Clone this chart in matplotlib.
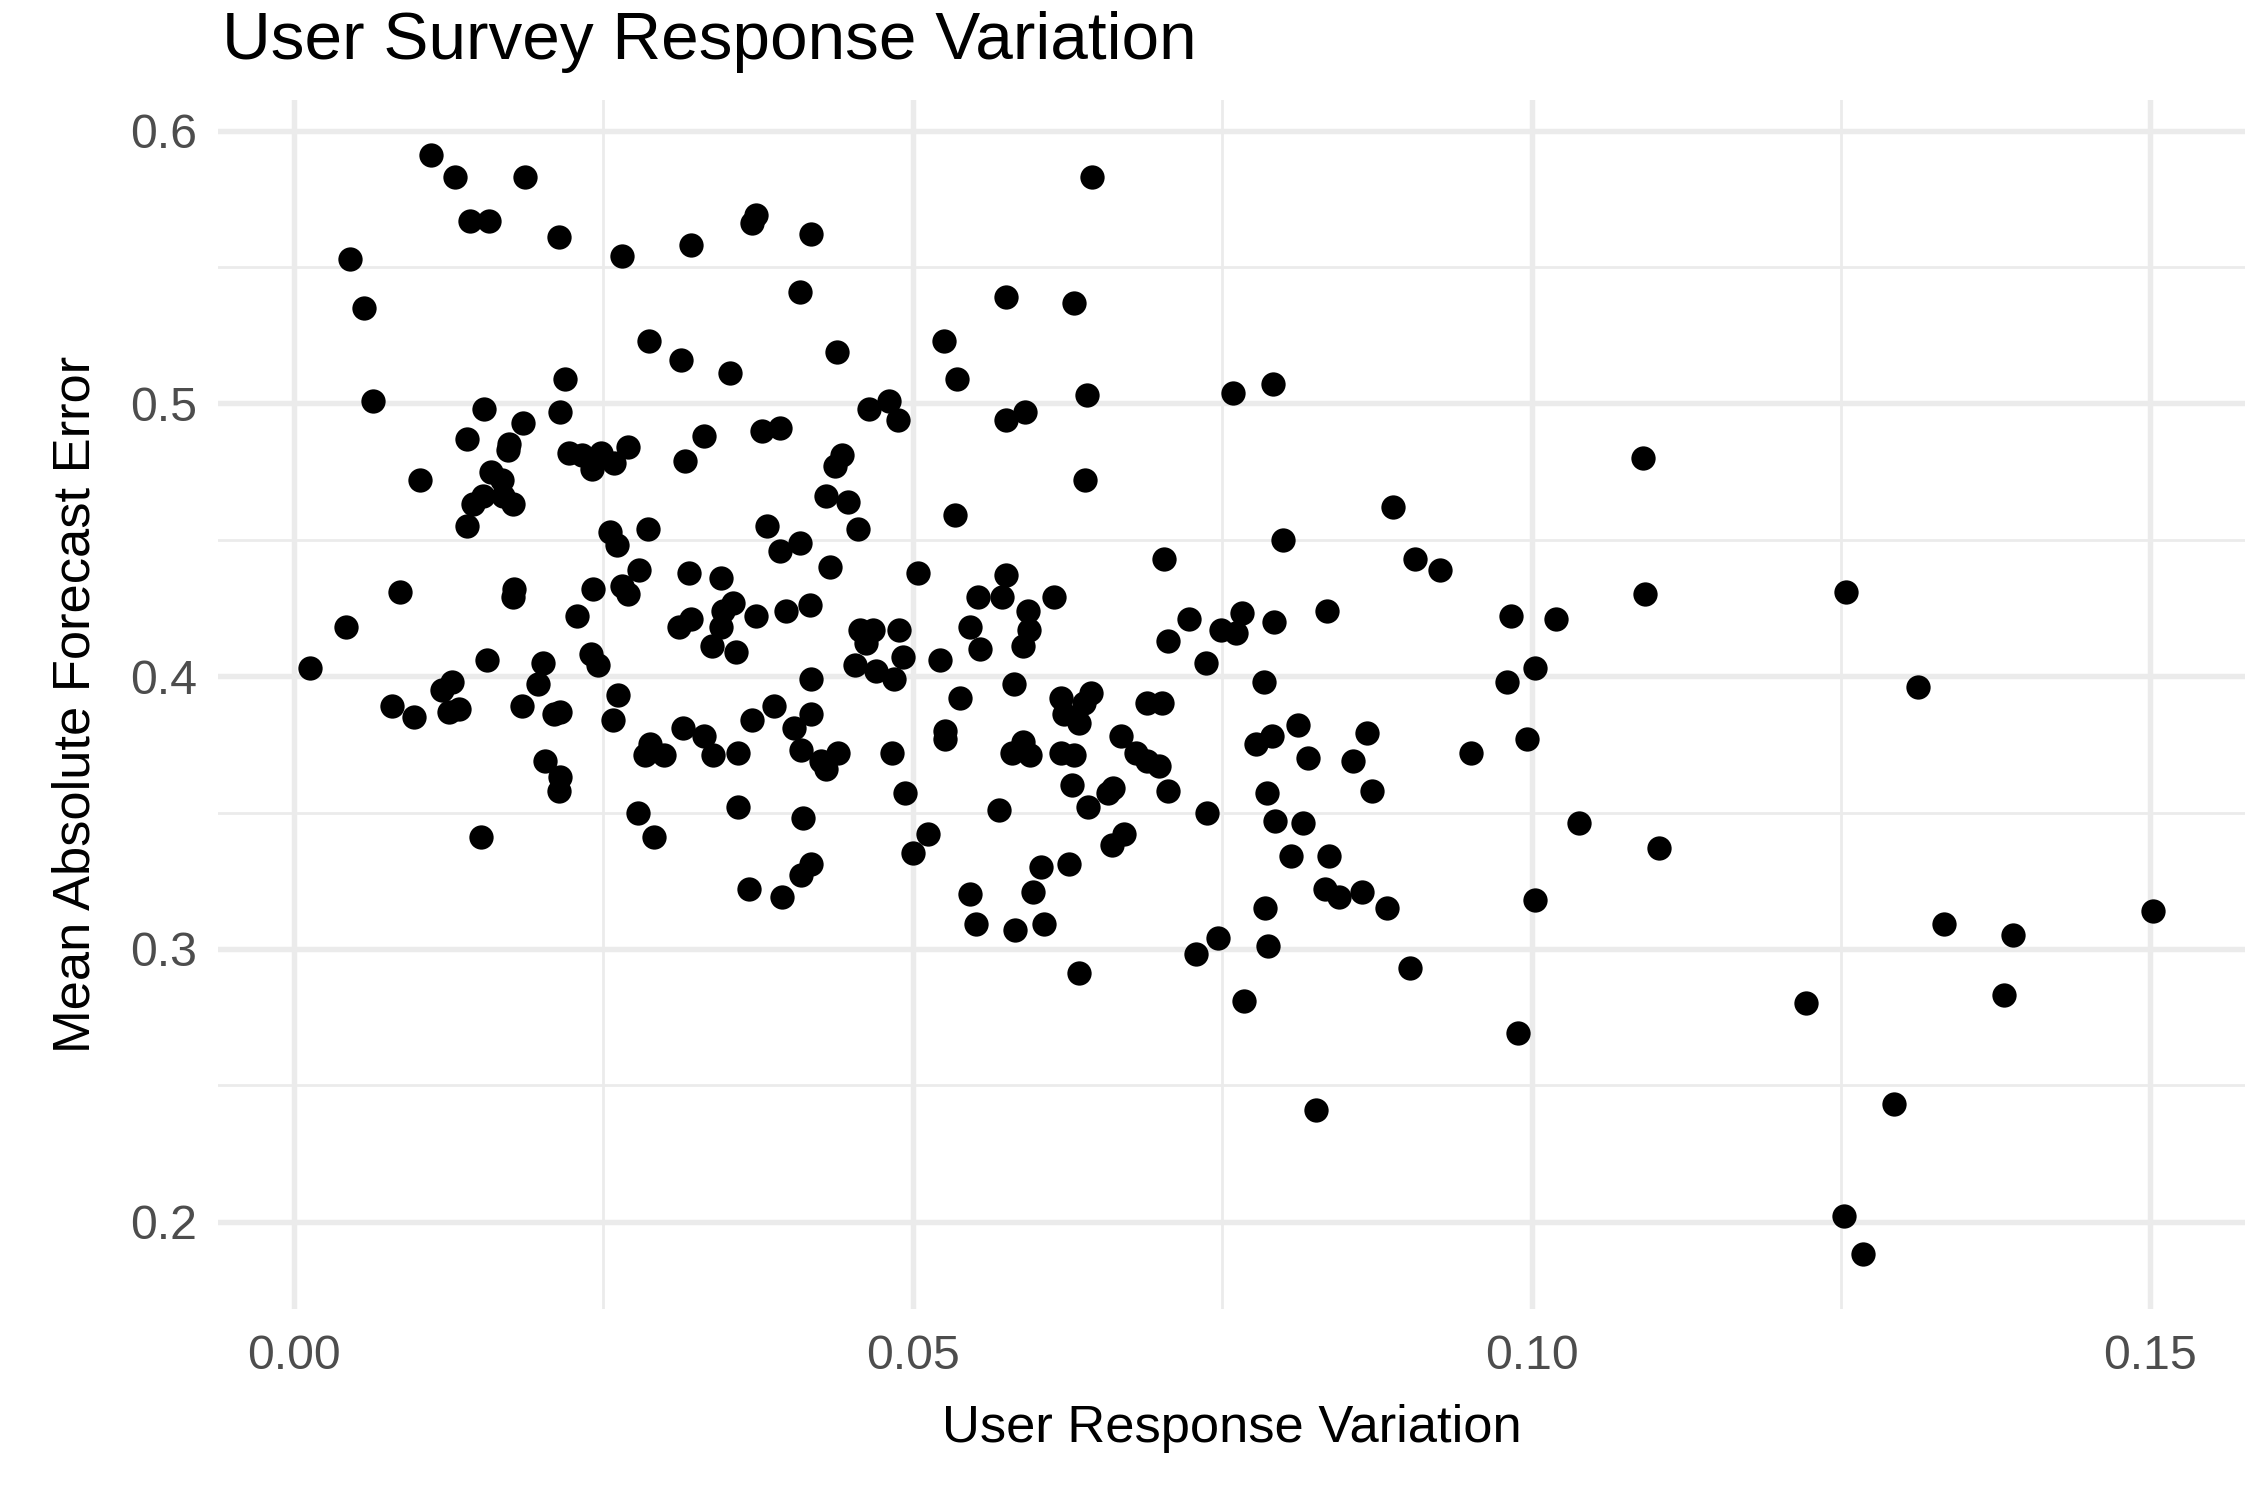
"""User survey response variation vs mean absolute forecast error (scatter)."""

import matplotlib

matplotlib.use("Agg")
import matplotlib.pyplot as plt
from matplotlib.ticker import MultipleLocator

# values
user_response_variation = [
    0.0111, 0.0130, 0.0187, 0.0142, 0.0158, 0.0045, 0.0214, 0.0265, 0.0321, 0.0373,
    0.0370, 0.0418, 0.0645, 0.0057, 0.0409, 0.0575, 0.0630, 0.0287, 0.0313, 0.0439,
    0.0525, 0.0536, 0.0352, 0.0219, 0.0064, 0.0481, 0.0465, 0.0488, 0.0154, 0.0215,
    0.0185, 0.0575, 0.0591, 0.0641, 0.0759, 0.0791, 0.0378, 0.0393, 0.0331, 0.0140,
    0.0174, 0.0173, 0.0222, 0.0233, 0.0241, 0.0248, 0.0259, 0.0270, 0.0316, 0.0443,
    0.0437, 0.1090, 0.0102, 0.0159, 0.0168, 0.0153, 0.0145, 0.0169, 0.0177, 0.0140,
    0.0430, 0.0448, 0.0534, 0.0639, 0.0888, 0.0255, 0.0286, 0.0261, 0.0456, 0.0382,
    0.0393, 0.0409, 0.0799, 0.0906, 0.0926, 0.0703, 0.0504, 0.0319, 0.0345, 0.0279,
    0.0433, 0.0575, 0.0086, 0.0178, 0.0177, 0.0242, 0.0265, 0.0270, 0.0355, 0.0347,
    0.0553, 0.0572, 0.0614, 0.1092, 0.1254, 0.0229, 0.0321, 0.0311, 0.0345, 0.0373,
    0.0398, 0.0417, 0.0593, 0.0594, 0.0457, 0.0468, 0.0489, 0.0462, 0.0546, 0.0554,
    0.0589, 0.0723, 0.0766, 0.0749, 0.0761, 0.0792, 0.0835, 0.0983, 0.1020, 0.0706,
    0.0042, 0.0013, 0.0156, 0.0201, 0.0240, 0.0246, 0.0357, 0.0492, 0.0453, 0.0470,
    0.0485, 0.0418, 0.0522, 0.0737, 0.1003, 0.0980, 0.0784, 0.0197, 0.0262, 0.0538,
    0.0582, 0.0644, 0.0620, 0.0638, 0.0689, 0.0701, 0.1312, 0.0079, 0.0184, 0.0215,
    0.0388, 0.0418, 0.0370, 0.0258, 0.0097, 0.0120, 0.0128, 0.0125, 0.0133, 0.0622,
    0.0634, 0.0811, 0.0314, 0.0526, 0.0526, 0.0404, 0.0331, 0.0288, 0.0284, 0.0299,
    0.0339, 0.0359, 0.0410, 0.0426, 0.0440, 0.0430, 0.0483, 0.0589, 0.0580, 0.0595,
    0.0620, 0.0630, 0.0668, 0.0680, 0.0689, 0.0699, 0.0777, 0.0790, 0.0819, 0.0867,
    0.0856, 0.0951, 0.0996, 0.0203, 0.0215, 0.0214, 0.0494, 0.0629, 0.0662, 0.0658,
    0.0706, 0.0871, 0.0786, 0.0359, 0.0642, 0.0570, 0.0738, 0.0278, 0.0411, 0.0793,
    0.0815, 0.1038, 0.0151, 0.0291, 0.0512, 0.0671, 0.0661, 0.0500, 0.1103, 0.0806,
    0.0836, 0.0418, 0.0410, 0.0604, 0.0626, 0.0368, 0.0394, 0.0546, 0.0597, 0.0833,
    0.0844, 0.0863, 0.1003, 0.0883, 0.0785, 0.1502, 0.0551, 0.0583, 0.0606, 0.1333,
    0.1389, 0.0747, 0.0787, 0.0729, 0.0902, 0.0634, 0.1382, 0.0768, 0.1222, 0.0989,
    0.1293, 0.0826, 0.1252, 0.1268, 0.0210, 0.0338,
]
mean_abs_forecast_error = [
    0.591, 0.583, 0.583, 0.567, 0.567, 0.553, 0.561, 0.554, 0.558, 0.569,
    0.566, 0.562, 0.583, 0.535, 0.541, 0.539, 0.537, 0.523, 0.516, 0.519,
    0.523, 0.509, 0.511, 0.509, 0.501, 0.501, 0.498, 0.494, 0.498, 0.497,
    0.493, 0.494, 0.497, 0.503, 0.504, 0.507, 0.490, 0.491, 0.488, 0.487,
    0.485, 0.483, 0.482, 0.481, 0.476, 0.482, 0.478, 0.484, 0.479, 0.481,
    0.477, 0.480, 0.472, 0.475, 0.472, 0.466, 0.463, 0.466, 0.463, 0.455,
    0.466, 0.464, 0.459, 0.472, 0.462, 0.453, 0.454, 0.448, 0.454, 0.455,
    0.446, 0.449, 0.450, 0.443, 0.439, 0.443, 0.438, 0.438, 0.436, 0.439,
    0.440, 0.437, 0.431, 0.432, 0.429, 0.432, 0.433, 0.430, 0.427, 0.424,
    0.429, 0.429, 0.429, 0.430, 0.431, 0.422, 0.421, 0.418, 0.418, 0.422,
    0.424, 0.426, 0.424, 0.417, 0.417, 0.417, 0.417, 0.412, 0.418, 0.410,
    0.411, 0.421, 0.423, 0.417, 0.416, 0.420, 0.424, 0.422, 0.421, 0.413,
    0.418, 0.403, 0.406, 0.405, 0.408, 0.404, 0.409, 0.407, 0.404, 0.402,
    0.399, 0.399, 0.406, 0.405, 0.403, 0.398, 0.398, 0.397, 0.393, 0.392,
    0.397, 0.394, 0.392, 0.390, 0.390, 0.390, 0.396, 0.389, 0.389, 0.387,
    0.389, 0.386, 0.384, 0.384, 0.385, 0.395, 0.398, 0.387, 0.388, 0.386,
    0.383, 0.382, 0.381, 0.380, 0.377, 0.381, 0.378, 0.375, 0.371, 0.371,
    0.371, 0.372, 0.373, 0.369, 0.372, 0.366, 0.372, 0.376, 0.372, 0.371,
    0.372, 0.371, 0.378, 0.372, 0.369, 0.367, 0.375, 0.378, 0.370, 0.379,
    0.369, 0.372, 0.377, 0.369, 0.363, 0.358, 0.357, 0.360, 0.359, 0.357,
    0.358, 0.358, 0.357, 0.352, 0.352, 0.351, 0.350, 0.350, 0.348, 0.347,
    0.346, 0.346, 0.341, 0.341, 0.342, 0.342, 0.338, 0.335, 0.337, 0.334,
    0.334, 0.331, 0.327, 0.330, 0.331, 0.322, 0.319, 0.320, 0.321, 0.322,
    0.319, 0.321, 0.318, 0.315, 0.315, 0.314, 0.309, 0.307, 0.309, 0.309,
    0.305, 0.304, 0.301, 0.298, 0.293, 0.291, 0.283, 0.281, 0.280, 0.269,
    0.243, 0.241, 0.202, 0.188, 0.386, 0.411,
]

title = "User Survey Response Variation"
x_label = "User Response Variation"
y_label = "Mean Absolute Forecast Error"

plt.rcParams["font.family"] = ["Liberation Sans", "DejaVu Sans"]

fig = plt.figure(figsize=(2248 / 300, 1493 / 300), dpi=300)
ax = fig.add_axes([0.0969, 0.1230, 0.9018, 0.8098])

ax.scatter(user_response_variation, mean_abs_forecast_error, s=34, color="black",
           linewidths=0, zorder=3)
ax.margins(x=0.05, y=0.05)

ax.xaxis.set_major_locator(MultipleLocator(0.05))
ax.xaxis.set_minor_locator(MultipleLocator(0.025))
ax.yaxis.set_major_locator(MultipleLocator(0.1))
ax.yaxis.set_minor_locator(MultipleLocator(0.05))
ax.xaxis.set_major_formatter(lambda v, p: f"{v:.2f}")
ax.yaxis.set_major_formatter(lambda v, p: f"{v:.1f}")

ax.grid(which="major", color="#EBEBEB", linewidth=1.3)
ax.grid(which="minor", color="#EBEBEB", linewidth=0.65)
ax.set_axisbelow(True)
for s in ax.spines.values():
    s.set_visible(False)
ax.tick_params(which="both", length=0, labelsize=11.6, labelcolor="#4D4D4D")
ax.tick_params(axis="y", pad=5)
ax.tick_params(axis="x", pad=6)

ax.set_xlabel(x_label, fontsize=12.6, labelpad=6)
ax.set_ylabel(y_label, fontsize=12.6, labelpad=7)
ax.set_title(title, loc="left", fontsize=16.2, pad=10, x=0.002)

fig.savefig("out.png", dpi=300)
